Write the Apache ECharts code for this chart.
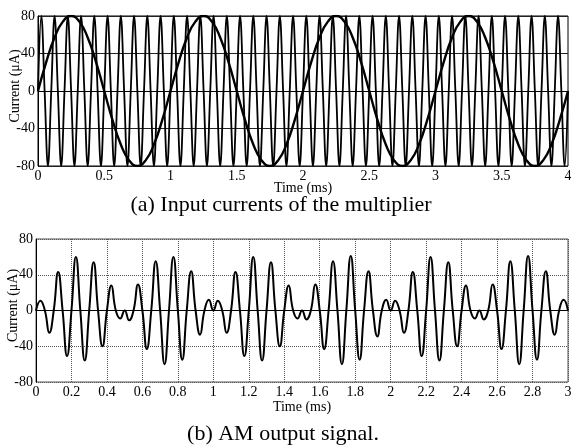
<!DOCTYPE html>
<html>
<head>
<meta charset="utf-8">
<script src="https://cdn.jsdelivr.net/npm/echarts@6/dist/echarts.min.js"></script>
<style>
  html, body { margin: 0; padding: 0; background: #fff; }
  #chart { width: 571px; height: 445px; }
</style>
</head>
<body>
<div id="chart"></div>
<script>
// (a) input currents
// carrier: sampled every 0.025 ms (zero, peak, zero, trough ...)
var CARRIER_STEP = 0.025;
var carrier = [
  0, 80, 0, -80, 0, 80, 0, -80, 0, 80, 0, -80, 0, 80, 0, -80, 0, 80, 0, -80,
  0, 80, 0, -80, 0, 80, 0, -80, 0, 80, 0, -80, 0, 80, 0, -80, 0, 80, 0, -80,
  0, 80, 0, -80, 0, 80, 0, -80, 0, 80, 0, -80, 0, 80, 0, -80, 0, 80, 0, -80,
  0, 80, 0, -80, 0, 80, 0, -80, 0, 80, 0, -80, 0, 80, 0, -80, 0, 80, 0, -80,
  0, 80, 0, -80, 0, 80, 0, -80, 0, 80, 0, -80, 0, 80, 0, -80, 0, 80, 0, -80,
  0, 80, 0, -80, 0, 80, 0, -80, 0, 80, 0, -80, 0, 80, 0, -80, 0, 80, 0, -80,
  0, 80, 0, -80, 0, 80, 0, -80, 0, 80, 0, -80, 0, 80, 0, -80, 0, 80, 0, -80,
  0, 80, 0, -80, 0, 80, 0, -80, 0, 80, 0, -80, 0, 80, 0, -80, 0, 80, 0, -80,
  0
];
// modulating signal: sampled every 0.0625 ms
var MOD_STEP = 0.0625;
var modulating = [
  0, 31, 57, 74, 80, 74, 57, 31, 0, -31, -57, -74, -80, -74, -57, -31,
  0, 31, 57, 74, 80, 74, 57, 31, 0, -31, -57, -74, -80, -74, -57, -31,
  0, 31, 57, 74, 80, 74, 57, 31, 0, -31, -57, -74, -80, -74, -57, -31,
  0, 31, 57, 74, 80, 74, 57, 31, 0, -31, -57, -74, -80, -74, -57, -31,
  0
];

// (b) AM output, sampled every 0.025 ms (one row = 0.5 ms)
var AM_STEP = 0.025;
var amOutput = [
  0, 11, 0, -25, 0, 43, 0, -51, 0, 60, 0, -56, 0, 54, 0, -40, 0, 28, 0, -9,
  0, -11, 0, 29, 0, -43, 0, 55, 0, -60, 0, 60, 0, -55, 0, 44, 0, -27, 0, 12,
  0, 11, 0, -25, 0, 43, 0, -51, 0, 60, 0, -56, 0, 54, 0, -40, 0, 28, 0, -9,
  0, -10, 0, 29, 0, -43, 0, 55, 0, -60, 0, 61, 0, -55, 0, 44, 0, -29, 0, 12,
  0, 11, 0, -25, 0, 43, 0, -51, 0, 60, 0, -56, 0, 54, 0, -40, 0, 28, 0, -9,
  0, -10, 0, 29, 0, -43, 0, 55, 0, -60, 0, 61, 0, -55, 0, 44, 0, -27, 0, 12,
  0
];

var yTicks = [-80, -40, 0, 40, 80];

function toXY(values, step) {
  return values.map(function (v, i) { return [i * step, v]; });
}

var font = "Liberation Serif";
var chart = echarts.init(document.getElementById("chart"));

function xAxisOf(grid, max, interval, gap, split) {
  return {
    type: "value", gridIndex: grid, min: 0, max: max, interval: interval,
    name: "Time (ms)", nameLocation: "middle", nameGap: gap, nameMoveOverlap: false,
    nameTextStyle: { fontFamily: font, fontSize: 14, color: "#000" },
    axisLine: { lineStyle: { color: "#000", width: 1 } },
    axisTick: { show: false },
    axisLabel: { margin: 3, fontFamily: font, fontSize: 14, color: "#000" },
    splitLine: split
  };
}
function yAxisOf(grid, split) {
  return {
    type: "value", gridIndex: grid, min: yTicks[0], max: yTicks[yTicks.length - 1], interval: 40,
    name: "Current (μA)", nameLocation: "middle", nameGap: 16, nameMoveOverlap: false,
    // pad the start so the rotated name sits a little above the middle
    nameTextStyle: { fontFamily: font, fontSize: 14, color: "#000", padding: [0, 0, 0, 10] },
    axisLine: { lineStyle: { color: "#000", width: 1 } },
    axisTick: { show: false },
    axisLabel: { margin: 3, fontFamily: font, fontSize: 14, color: "#000" },
    splitLine: split
  };
}

var dotted = { show: true, lineStyle: { color: "#555", width: 1, type: [1, 1] } };

var option = {
  backgroundColor: "#fff",
  animation: false,
  grid: [
    { left: 38, right: 3, top: 16, height: 150, outerBoundsMode: "none", show: true, borderColor: "#000", borderWidth: 1 },
    { left: 36, right: 3, top: 239, height: 143, outerBoundsMode: "none", show: true, borderColor: "#555", borderWidth: 1 }
  ],
  xAxis: [
    xAxisOf(0, 4, 0.5, 15, { show: false }),
    xAxisOf(1, 3, 0.2, 18, dotted)
  ],
  yAxis: [
    yAxisOf(0, { show: true, lineStyle: { color: "#222", width: 1 } }),
    yAxisOf(1, dotted)
  ],
  series: [
    {
      type: "line", xAxisIndex: 0, yAxisIndex: 0, data: toXY(carrier, CARRIER_STEP),
      smooth: 0.4, showSymbol: false, lineStyle: { color: "#000", width: 1.8 }
    },
    {
      type: "line", xAxisIndex: 0, yAxisIndex: 0, data: toXY(modulating, MOD_STEP),
      smooth: true, showSymbol: false, lineStyle: { color: "#000", width: 2.4 }
    },
    {
      type: "line", xAxisIndex: 1, yAxisIndex: 1, data: toXY(amOutput, AM_STEP),
      smooth: true, showSymbol: false, lineStyle: { color: "#000", width: 2 }
    }
  ],
  graphic: [
    {
      type: "text", x: 281, y: 205,
      style: { text: "(a) Input currents of the multiplier", font: "22px " + font, fill: "#000", align: "center", verticalAlign: "middle" }
    },
    {
      type: "text", x: 283, y: 434,
      style: { text: "(b) AM output signal.", font: "22px " + font, fill: "#000", align: "center", verticalAlign: "middle" }
    }
  ]
};
chart.setOption(option);
</script>
</body>
</html>
